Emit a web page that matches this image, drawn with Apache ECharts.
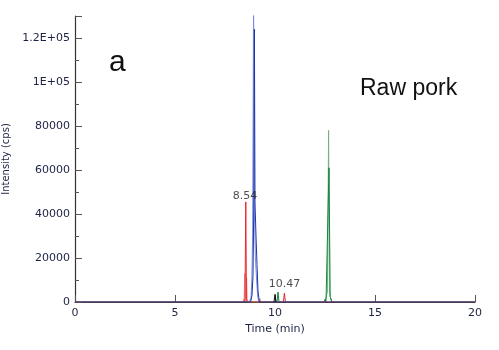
<!DOCTYPE html>
<html><head><meta charset="utf-8">
<script src="https://cdn.jsdelivr.net/npm/echarts@6/dist/echarts.min.js"></script>
<style>html,body{margin:0;padding:0;background:#fff}#c{width:499px;height:350px}</style>
</head><body><div id="c"></div>
<script>
// Tick labels
var yTickValues = [0, 20000, 40000, 60000, 80000, 100000, 120000];
var yTickLabels = ['0', '20000', '40000', '60000', '80000', '1E+05', '1.2E+05'];
var xTickLabels = ['0', '5', '10', '15', '20'];

// Chromatogram traces: [time (min), intensity (cps)]
var redLight = [[8.40,0],[8.46,2000],[8.49,13000],[8.51,2000],[8.55,0],[8.58,11000],[8.61,0],[9.2,0],[9.25,1500],[9.3,0]];
var redDark = [[0,0],[4.65,0],[4.7,600],[4.75,0],[6.4,0],[6.45,700],[6.5,0],[7.2,0],[7.25,600],[7.3,0],[7.55,0],[7.6,600],[7.65,0],[8.45,0],[8.50,1500],[8.54,45500],[8.57,1500],[8.62,0],[9.35,0],[9.4,900],[9.45,0],[10.42,0],[10.47,4000],[10.52,0],[20,0]];
var blueLight = [[8.72,0],[8.80,2000],[8.84,10000],[8.88,30000],[8.93,140000],[8.96,45000],[9.02,20000],[9.08,10000],[9.14,2000],[9.2,0]];
var blueDark = [[0,0],[8.78,0],[8.85,3000],[8.90,12000],[8.94,45000],[8.97,124000],[9.00,45000],[9.05,30000],[9.10,17000],[9.15,5000],[9.22,0],[11.1,0],[11.15,400],[11.2,0],[20,0]];
var greenLight = [[12.50,0],[12.62,4500],[12.68,78000],[12.72,4500],[12.82,0]];
var greenDark = [[0,0],[8.45,0],[8.5,900],[8.55,0],[9.6,0],[9.65,500],[9.7,0],[10.1,0],[10.15,4500],[10.2,0],[10.9,0],[10.95,500],[11.0,0],[12.2,0],[12.25,600],[12.3,0],[12.45,0],[12.5,1200],[12.55,0],[12.62,0],[12.7,61000],[12.76,2500],[12.85,0],[13.2,0],[13.25,400],[13.3,0],[14.4,0],[14.45,400],[14.5,0],[14.7,0],[14.75,400],[14.8,0],[20,0]];
var blackTrace = [[9.95,0],[10.0,3500],[10.05,0]];

// Peak annotations
var annotations = [[8.50, 44500, '8.54'], [10.47, 4500, '10.47']];

var chart = echarts.init(document.getElementById('c'), null, {renderer: 'canvas'});
var labelColor = '#1c2242';
var fontFam = '"DejaVu Sans", sans-serif';
function line(data, color, z) {
  return {type: 'line', data: data, showSymbol: false, symbol: 'none', z: z,
    lineStyle: {color: color, width: 1}, animation: false};
}
chart.setOption({
  animation: false,
  grid: {left: 75, right: 24, top: 16, bottom: 48, containLabel: false, outerBoundsMode: 'none'},
  xAxis: {
    type: 'value', min: 0, max: 20, interval: 5,
    name: 'Time (min)', nameLocation: 'middle', nameGap: 22,
    nameTextStyle: {color: labelColor, fontSize: 11, fontFamily: fontFam},
    axisLine: {lineStyle: {color: '#333', width: 1.2}},
    axisTick: {inside: true, length: 7, lineStyle: {color: '#555'}},
    axisLabel: {color: labelColor, fontSize: 11, fontFamily: fontFam, margin: 6,
      formatter: function (v) { var i = v / 5; return xTickLabels[i] !== undefined ? xTickLabels[i] : ''; }},
    splitLine: {show: false}
  },
  yAxis: {
    type: 'value', min: 0, max: 130000, interval: 20000,
    name: 'Intensity (cps)', nameLocation: 'middle', nameGap: 56, nameRotate: 90,
    nameTextStyle: {color: labelColor, fontSize: 10, fontFamily: fontFam},
    axisLine: {show: true, lineStyle: {color: '#333', width: 1.2}},
    axisTick: {inside: true, length: 7, lineStyle: {color: '#555'}},
    minorTick: {show: true, splitNumber: 2, length: 4, lineStyle: {color: '#555'}},
    axisLabel: {color: labelColor, fontSize: 11, fontFamily: fontFam, margin: 5, showMaxLabel: false,
      formatter: function (v) { var i = yTickValues.indexOf(v); return i >= 0 ? yTickLabels[i] : ''; }},
    splitLine: {show: false}
  },
  series: [
    line(redLight, '#f08a8a', 2),
    line(blueLight, '#7d8ee0', 2),
    line(greenLight, '#78ad85', 2),
    line(greenDark, '#13873a', 3),
    line(redDark, '#e8262c', 4),
    line(blueDark, '#1c35a8', 5),
    line(blackTrace, '#111', 6),
    {type: 'scatter', data: annotations, symbolSize: 0, z: 10,
      label: {show: true, position: 'top', distance: 2, color: '#222', fontSize: 11, fontFamily: fontFam,
        formatter: function (p) { return p.data[2]; }}}
  ],
  graphic: [
    {type: 'text', left: 109, top: 48, style: {text: 'a', fontSize: 30, fontFamily: 'Liberation Sans, Arial, sans-serif', fill: '#111'}},
    {type: 'text', left: 360, top: 77, style: {text: 'Raw pork', fontSize: 23, fontFamily: 'Liberation Sans, Arial, sans-serif', fill: '#111'}}
  ]
});
</script></body></html>
